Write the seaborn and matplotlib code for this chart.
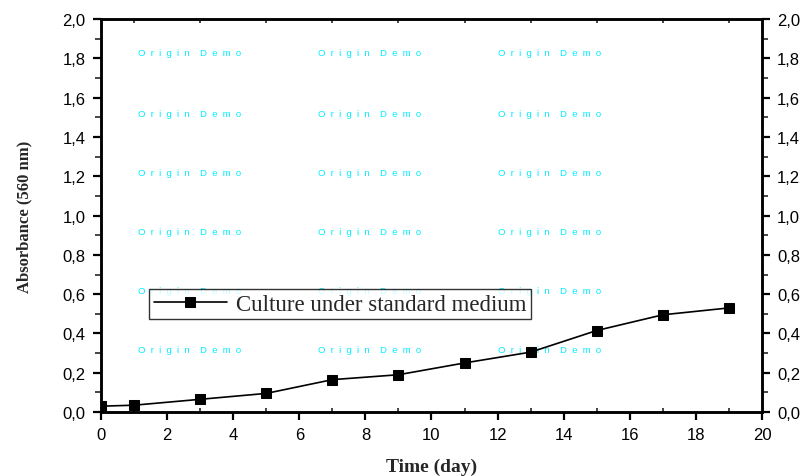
import seaborn as sns
import pandas as pd
import matplotlib.pyplot as plt
from matplotlib.ticker import MultipleLocator, FuncFormatter

# growth curve values
days = [0, 1, 3, 5, 7, 9, 11, 13, 15, 17, 19]
absorbance = [0.03, 0.035, 0.065, 0.095, 0.165, 0.19, 0.25, 0.305, 0.415, 0.495, 0.53]
series_name = "Culture under standard medium"

# watermark grid (data coords)
wm_x = [1.12, 6.57, 12.0]
wm_y = [1.83, 1.52, 1.22, 0.92, 0.62, 0.32]

sns.set_style("white")
plt.rcParams['font.family'] = ['Liberation Sans', 'DejaVu Sans']

df = pd.DataFrame({"day": days, "abs": absorbance, "series": series_name})

fig = plt.figure(figsize=(8.08, 4.77), dpi=100)
ax = fig.add_axes([0.125, 0.134, 0.818, 0.824])

for wx in wm_x:
    for wy in wm_y:
        ax.text(wx, wy, "O  r  i  g  i  n    D  e  m  o", color="#00eeff", fontsize=6.8,
                va="center", ha="left", zorder=0)

sns.lineplot(data=df, x="day", y="abs", hue="series", palette=["black"],
             marker="s", markersize=6.5, markeredgecolor="black", linewidth=1.2,
             ax=ax, zorder=3)

ax.set_xlim(0, 20)
ax.set_ylim(0, 2.0)
comma = FuncFormatter(lambda v, p: f"{v:.1f}".replace('.', ','))
ax.xaxis.set_major_locator(MultipleLocator(2))
ax.xaxis.set_minor_locator(MultipleLocator(1))
ax.yaxis.set_major_locator(MultipleLocator(0.2))
ax.yaxis.set_minor_locator(MultipleLocator(0.1))
ax.yaxis.set_major_formatter(comma)

ax2 = ax.twinx()
ax2.set_ylim(0, 2.0)
ax2.yaxis.set_major_locator(MultipleLocator(0.2))
ax2.yaxis.set_minor_locator(MultipleLocator(0.1))
ax2.yaxis.set_major_formatter(comma)

for a in (ax, ax2):
    for s in a.spines.values():
        s.set_linewidth(1.8)
        s.set_color("black")
    a.tick_params(which="major", length=6, width=1.6, labelsize=12, pad=5, colors="black")
    a.tick_params(which="minor", length=4, width=1.2)

ax.tick_params(axis="both", which="both", direction="out", bottom=True, left=True)
ax.tick_params(axis="x", which="major", top=False)
ax.tick_params(axis="x", which="minor", top=True, direction="in", length=3)
ax2.tick_params(axis="y", which="both", direction="out", right=True)

ax.set_xlabel("Time (day)", fontsize=14, fontweight="bold",
              family="Liberation Serif", labelpad=11)
ax.set_ylabel("Absorbance (560 nm)", fontsize=12, fontweight="bold",
              family="Liberation Serif", labelpad=22)
ax2.set_ylabel("")

handles, labels = ax.get_legend_handles_labels()
leg = ax.legend(handles, labels, loc="upper left", bbox_to_anchor=(0.073, 0.313),
                borderaxespad=0, frameon=True, fancybox=False, edgecolor="black",
                handlelength=3.2, handletextpad=0.4,
                prop={"family": "Liberation Serif", "size": 16.5}, borderpad=0.2)
leg.get_frame().set_linewidth(1.0)

fig.savefig("out.png", dpi=100)
